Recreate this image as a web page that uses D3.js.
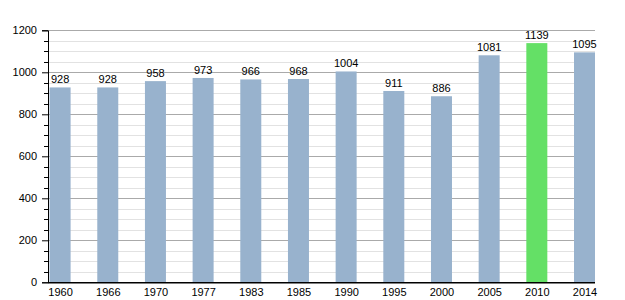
<!DOCTYPE html>
<html><head><meta charset="utf-8">
<script src="https://cdn.jsdelivr.net/npm/d3@7"></script>
<style>body{margin:0;background:#fff}svg{display:block}</style>
</head><body>
<svg id="c" width="625" height="300"></svg>
<script>
const years = ["1960","1966","1970","1977","1983","1985","1990","1995","2000","2005","2010","2014"];
const population = [928,928,958,973,966,968,1004,911,886,1081,1139,1095];
const highlightYear = "2010";
const yTicks = [0,200,400,600,800,1000,1200];

(function(){
const svg = d3.select("#c");
const pLeft = 48, pRight = 595, pTop = 30.3, pBottom = 282.3;
const y = d3.scaleLinear().domain([0,1200]).range([pBottom, pTop]);
const x = d3.scalePoint().domain(years).range([60.1, 584.5]);
const bw = 21;
const font = "Liberation Sans, Arial, sans-serif";

// grid lines
const minor = d3.range(0, 1201, 50);
svg.append("g").selectAll("line").data(minor.filter(v => v % 200 !== 0)).join("line")
  .attr("x1", pLeft).attr("x2", pRight)
  .attr("y1", d => Math.round(y(d)) + 0.5).attr("y2", d => Math.round(y(d)) + 0.5)
  .attr("stroke", "#e2e2e2").attr("stroke-width", 1);
svg.append("g").selectAll("line").data(yTicks.filter(v => v > 0)).join("line")
  .attr("x1", pLeft).attr("x2", pRight)
  .attr("y1", d => Math.round(y(d)) + 0.5).attr("y2", d => Math.round(y(d)) + 0.5)
  .attr("stroke", "#aaaaaa").attr("stroke-width", 1);

// bars
svg.append("g").selectAll("rect").data(years).join("rect")
  .attr("x", d => x(d) - bw/2).attr("width", bw)
  .attr("y", (d,i) => y(population[i])).attr("height", (d,i) => pBottom - y(population[i]))
  .attr("fill", d => d === highlightYear ? "#64e066" : "#98b2cd");

// value labels
svg.append("g").selectAll("text").data(years).join("text")
  .attr("x", d => x(d)).attr("y", (d,i) => y(population[i]) - 4)
  .attr("text-anchor", "middle").attr("font-family", font).attr("font-size", 11)
  .attr("fill", "#000").text((d,i) => population[i]);

// y axis
const yAxis = d3.axisLeft(y).tickValues(yTicks).tickFormat(d3.format("d")).tickSize(6).tickPadding(5);
const gy = svg.append("g").attr("transform", `translate(${pLeft},0)`).call(yAxis);
gy.select(".domain").attr("stroke", "#000");
gy.selectAll(".tick line").attr("stroke", "#000");
gy.selectAll("text").attr("font-family", font).attr("font-size", 11).attr("fill", "#000");
// minor ticks
svg.append("g").selectAll("line").data(minor.filter(v => v % 200 !== 0)).join("line")
  .attr("x1", pLeft - 4).attr("x2", pLeft)
  .attr("y1", d => Math.round(y(d)) + 0.5).attr("y2", d => Math.round(y(d)) + 0.5)
  .attr("stroke", "#000");

// x axis
const gx = svg.append("g").attr("transform", `translate(0,${pBottom})`)
  .call(d3.axisBottom(x).tickSize(0).tickPadding(6));
gx.select(".domain").attr("d", `M${pLeft},0.5H${pRight}`).attr("stroke", "#000").attr("stroke-width", 1.5);
gx.selectAll("text").attr("font-family", font).attr("font-size", 11).attr("fill", "#000");
})();
</script>
</body></html>
